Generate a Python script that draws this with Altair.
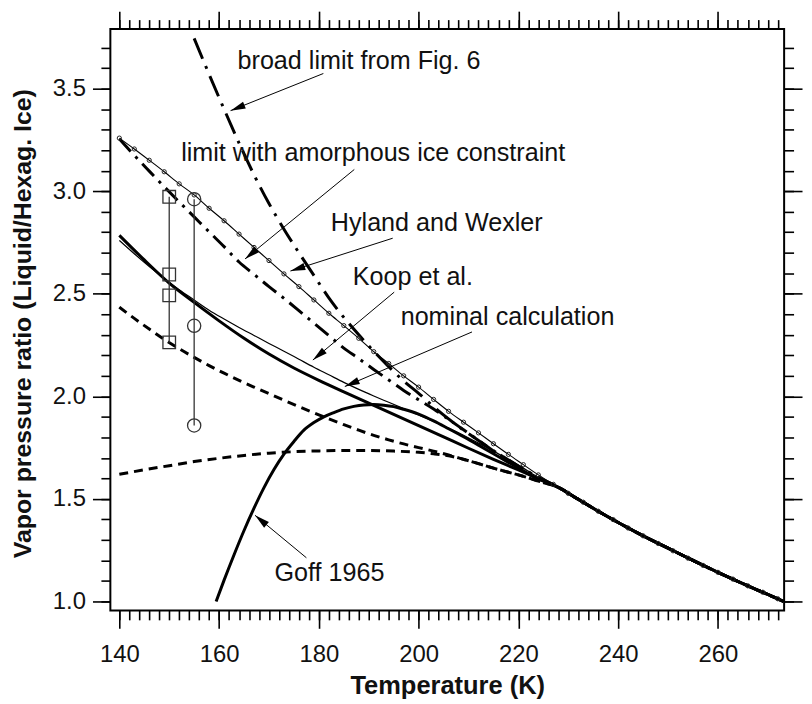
import math
import altair as alt
import pandas as pd

# ---------------- data ----------------
# Hyland and Wexler (thin line with small markers every 3 K)
hw_T = [140, 143, 146, 149, 152, 155, 158, 161, 164, 167, 170, 173, 176, 179, 182, 185,
        188, 191, 194, 197, 200, 203, 206, 209, 212, 215, 218, 221, 224, 227, 230, 233,
        236, 239, 242, 245, 248, 251, 254, 257, 260, 263, 266, 269, 272]
hw_v = [3.259, 3.206, 3.151, 3.095, 3.036, 2.982, 2.917, 2.856, 2.791, 2.726, 2.662, 2.597,
        2.535, 2.470, 2.405, 2.345, 2.283, 2.218, 2.160, 2.100, 2.045, 1.985, 1.927, 1.874,
        1.822, 1.769, 1.717, 1.667, 1.617, 1.571, 1.527, 1.484, 1.440, 1.399, 1.358, 1.320,
        1.283, 1.247, 1.211, 1.176, 1.142, 1.109, 1.076, 1.045, 1.013]
hw_end_T = [273.15]
hw_end_v = [1.0]

# common warm-temperature tail where all curves coincide
tail_T = [228, 232, 236, 240, 245, 250, 255, 260, 265, 270, 273.15]
tail_v = [1.556, 1.498, 1.440, 1.385, 1.320, 1.260, 1.200, 1.142, 1.087, 1.034, 1.0]

# broad limit from Fig. 6 (thick dash-dot)
broad_T = [155, 158, 161, 164, 167, 170, 173, 176, 179, 182, 185, 188, 191, 194, 197, 200,
           203, 206, 209, 212, 215, 218, 221, 224]
broad_v = [3.745, 3.570, 3.400, 3.235, 3.080, 2.940, 2.815, 2.700, 2.590, 2.480, 2.385,
           2.300, 2.220, 2.145, 2.075, 2.015, 1.950, 1.890, 1.835, 1.785, 1.735, 1.690,
           1.645, 1.605]

# limit with amorphous ice constraint (thick dash-dot)
amor_T = [140, 143, 146, 149, 152, 155, 158, 161, 164, 167, 170, 173, 176, 179, 182, 185,
          188, 191, 194, 197, 200, 203, 206, 209, 212, 215, 218, 221, 224]
amor_v = [3.255, 3.175, 3.098, 3.022, 2.948, 2.875, 2.802, 2.730, 2.655, 2.595, 2.535,
          2.478, 2.418, 2.357, 2.296, 2.235, 2.184, 2.131, 2.080, 2.029, 1.983, 1.938,
          1.888, 1.837, 1.786, 1.734, 1.690, 1.645, 1.605]

# Koop et al. (thin solid)
koop_T = [140, 143, 146, 149, 152, 155, 158, 161, 164, 167, 170, 173, 176, 179, 182, 185,
          188, 191, 194, 197, 200, 203, 206, 209, 212, 215, 218, 221, 224]
koop_v = [2.760, 2.695, 2.633, 2.575, 2.520, 2.470, 2.420, 2.377, 2.336, 2.297, 2.258,
          2.220, 2.181, 2.142, 2.105, 2.068, 2.034, 2.002, 1.971, 1.940, 1.909, 1.877,
          1.845, 1.810, 1.772, 1.733, 1.692, 1.650, 1.605]

# nominal calculation (thick solid)
nom_T = [140, 145, 150, 155, 160, 165, 170, 175, 180, 185, 190, 195, 200, 205, 210, 215,
         220, 224]
nom_v = [2.785, 2.665, 2.552, 2.458, 2.368, 2.283, 2.206, 2.138, 2.078, 2.022, 1.967,
         1.912, 1.857, 1.802, 1.747, 1.693, 1.641, 1.598]

# Goff 1965 (thick solid)
goff_T = [159.4, 161, 163, 165, 167, 169, 171, 173, 175, 177, 179, 181, 183, 185, 187, 189,
          191, 193, 195, 197, 200, 203, 206, 209, 212, 215, 218, 221, 224]
goff_v = [1.0, 1.104, 1.228, 1.346, 1.455, 1.555, 1.643, 1.718, 1.780, 1.835, 1.872, 1.900,
          1.921, 1.939, 1.951, 1.958, 1.960, 1.957, 1.950, 1.937, 1.913, 1.880, 1.842, 1.803,
          1.762, 1.720, 1.678, 1.637, 1.597]

# upper dashed curve
dup_T = [140, 143, 146, 149, 152, 155, 158, 161, 164, 167, 170, 173, 176, 179, 182, 185,
         188, 191, 194, 197, 200, 203, 206, 209, 212, 215, 218, 221, 224]
dup_v = [2.435, 2.380, 2.328, 2.278, 2.232, 2.190, 2.150, 2.113, 2.078, 2.045, 2.013,
         1.981, 1.950, 1.920, 1.890, 1.862, 1.835, 1.810, 1.788, 1.768, 1.750, 1.733,
         1.714, 1.693, 1.672, 1.650, 1.630, 1.610, 1.587]

# lower dashed curve
dlo_T = [140, 145, 150, 155, 160, 165, 170, 175, 180, 185, 190, 195, 200, 203, 206, 209,
         212, 215, 218, 221, 224]
dlo_v = [1.620, 1.642, 1.662, 1.682, 1.698, 1.712, 1.723, 1.730, 1.734, 1.736, 1.736,
         1.733, 1.727, 1.720, 1.710, 1.693, 1.672, 1.650, 1.630, 1.610, 1.587]

# measurements
sq_T = [150, 150, 150, 150]
sq_v = [2.973, 2.594, 2.492, 2.263]
ci_T = [155, 155, 155]
ci_v = [2.961, 2.344, 1.858]

# annotations: label, text anchor (T, v), arrow start (T, v), arrow tip (T, v)
ann_label = ["broad limit from Fig. 6", "limit with amorphous ice constraint",
             "Hyland and Wexler", "Koop et al.", "nominal calculation", "Goff 1965"]
ann_T = [163.7, 152.4, 182.4, 186.8, 196.4, 171.1]
ann_v = [3.597, 3.146, 2.807, 2.541, 2.347, 1.100]
arr_T0 = [180.9, 187.1, 194.8, 195.1, 210.7, 177.5]
arr_v0 = [3.574, 3.106, 2.771, 2.508, 2.314, 1.213]
arr_T1 = [162.3, 165.2, 174.3, 178.8, 185.2, 167.2]
arr_v1 = [3.393, 2.670, 2.611, 2.177, 2.048, 1.420]

x_ticks_major = [140, 160, 180, 200, 220, 240, 260]
x_ticks_minor = list(range(140, 274, 2))
y_ticks_major = [1.0, 1.5, 2.0, 2.5, 3.0, 3.5]
y_ticks_minor = [round(1.0 + 0.1 * i, 1) for i in range(28)]

# ---------------- chart ----------------
X0, X1 = 138.2, 273.27
Y0, Y1 = 0.9564, 3.7907
W, H = 678, 585
xs = alt.Scale(domain=[X0, X1], nice=False, zero=False)
ys = alt.Scale(domain=[Y0, Y1], nice=False, zero=False)
FONT = "Liberation Sans"


def df(T, v):
    return pd.DataFrame({"T": T, "v": v})


def line(data, width, dash=None):
    kw = dict(color="black", strokeWidth=width, interpolate="monotone", clip=True)
    if dash:
        kw["strokeDash"] = dash
    return alt.Chart(data).mark_line(**kw).encode(
        x=alt.X("T:Q", scale=xs, axis=None), y=alt.Y("v:Q", scale=ys, axis=None))


layers = []
layers.append(line(df(dlo_T + tail_T, dlo_v + tail_v), 3, [9, 6]))
layers.append(line(df(dup_T + tail_T, dup_v + tail_v), 3, [9, 6]))
layers.append(line(df(goff_T + tail_T, goff_v + tail_v), 3))
layers.append(line(df(nom_T + tail_T, nom_v + tail_v), 3))
layers.append(line(df(koop_T + tail_T, koop_v + tail_v), 1.2))
layers.append(line(df(amor_T + tail_T, amor_v + tail_v), 3, [17, 7, 3, 7]))
layers.append(line(df(broad_T + tail_T, broad_v + tail_v), 3, [22, 8, 3, 8]))
layers.append(line(df(hw_T + hw_end_T, hw_v + hw_end_v), 1.1))
layers.append(alt.Chart(df(hw_T, hw_v)).mark_point(
    shape="circle", size=18, filled=False, color="#222", strokeWidth=1, opacity=1).encode(
    x=alt.X("T:Q", scale=xs, axis=None), y=alt.Y("v:Q", scale=ys, axis=None)))

# measurement bars and symbols
bars = pd.DataFrame({"T": [150, 155], "lo": [min(sq_v), min(ci_v)], "hi": [max(sq_v), max(ci_v)]})
layers.append(alt.Chart(bars).mark_rule(color="#333", strokeWidth=1.3).encode(
    x=alt.X("T:Q", scale=xs, axis=None), y=alt.Y("lo:Q", scale=ys, axis=None), y2="hi:Q"))
layers.append(alt.Chart(df(sq_T, sq_v)).mark_point(
    shape="square", size=160, filled=False, color="#333", strokeWidth=1.3, opacity=1).encode(
    x=alt.X("T:Q", scale=xs, axis=None), y=alt.Y("v:Q", scale=ys, axis=None)))
layers.append(alt.Chart(df(ci_T, ci_v)).mark_point(
    shape="circle", size=177, filled=False, color="#333", strokeWidth=1.3, opacity=1).encode(
    x=alt.X("T:Q", scale=xs, axis=None), y=alt.Y("v:Q", scale=ys, axis=None)))

# arrows
kx = W / (X1 - X0)
ky = H / (Y1 - Y0)
angles = []
for a, b, c, d in zip(arr_T0, arr_v0, arr_T1, arr_v1):
    dx = (c - a) * kx
    dy = -(d - b) * ky
    angles.append(math.degrees(math.atan2(dx, -dy)) % 360)
arr = pd.DataFrame({"T0": arr_T0, "v0": arr_v0, "T1": arr_T1, "v1": arr_v1, "ang": angles})
layers.append(alt.Chart(arr).mark_rule(color="black", strokeWidth=1).encode(
    x=alt.X("T0:Q", scale=xs, axis=None), y=alt.Y("v0:Q", scale=ys, axis=None),
    x2="T1:Q", y2="v1:Q"))
layers.append(alt.Chart(arr).mark_point(
    shape="M0,0 L0.5,2 L-0.5,2 Z", size=225, filled=True, color="black", opacity=1,
    strokeWidth=0).encode(
    x=alt.X("T1:Q", scale=xs, axis=None), y=alt.Y("v1:Q", scale=ys, axis=None),
    angle=alt.Angle("ang:Q", scale=None)))

ann = pd.DataFrame({"T": ann_T, "v": ann_v, "label": ann_label})
layers.append(alt.Chart(ann).mark_text(
    align="left", baseline="alphabetic", font=FONT, fontSize=25.3, color="#111").encode(
    x=alt.X("T:Q", scale=xs, axis=None), y=alt.Y("v:Q", scale=ys, axis=None), text="label:N"))

# axes (major / minor, on all four sides)
dummy = pd.DataFrame({"T": [200.0], "v": [2.0]})


def axis_layer(xaxis, yaxis):
    return alt.Chart(dummy).mark_point(opacity=0).encode(
        x=alt.X("T:Q", scale=xs, axis=xaxis), y=alt.Y("v:Q", scale=ys, axis=yaxis))


common = dict(domain=False, grid=False, tickColor="black", tickWidth=1.6)
layers.append(axis_layer(
    alt.Axis(orient="bottom", values=x_ticks_major, tickSize=18, labelPadding=14,
             labelFontSize=24, labelFont=FONT, labelColor="#111", format="d",
             title="Temperature (K)", titleFont=FONT, titleFontSize=25.6, titleFontWeight="bold",
             titleColor="#111", titleBaseline="alphabetic", titleY=84, **common),
    alt.Axis(orient="left", values=y_ticks_major, tickSize=18, labelPadding=7,
             labelFontSize=24, labelFont=FONT, labelColor="#111", format=".1f",
             title="Vapor pressure ratio (Liquid/Hexag. Ice)", titleFont=FONT, titleFontSize=25,
             titleFontWeight="bold", titleColor="#111", titleBaseline="alphabetic",
             titleX=-80, titleY=296, **common)))
layers.append(axis_layer(
    alt.Axis(orient="bottom", values=x_ticks_minor, tickSize=9.5, labels=False, title=None, **common),
    alt.Axis(orient="left", values=y_ticks_minor, tickSize=9.5, labels=False, title=None, **common)))
layers.append(axis_layer(
    alt.Axis(orient="top", values=x_ticks_major, tickSize=18, labels=False, title=None, **common),
    alt.Axis(orient="right", values=y_ticks_major, tickSize=18, labels=False, title=None, **common)))
layers.append(axis_layer(
    alt.Axis(orient="top", values=x_ticks_minor, tickSize=9.5, labels=False, title=None, **common),
    alt.Axis(orient="right", values=y_ticks_minor, tickSize=9.5, labels=False, title=None, **common)))

chart = alt.layer(*layers).resolve_axis(x="independent", y="independent").properties(
    width=W, height=H,
    autosize=alt.AutoSizeParams(type="none"),
    padding={"left": 103, "top": 19, "right": 20, "bottom": 92},
    background="white",
).configure_view(stroke="black", strokeWidth=2)

chart.save("out.html", embed_options={"renderer": "svg", "actions": False})
